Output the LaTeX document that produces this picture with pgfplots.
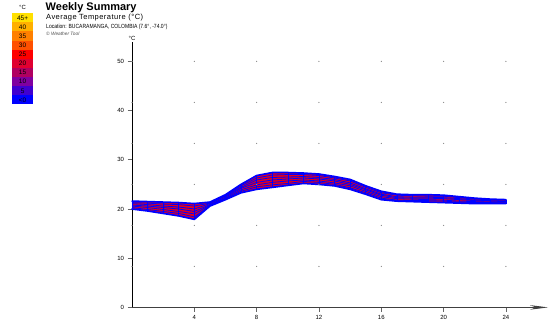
\documentclass[border=0pt]{standalone}
\usepackage{fontspec}
\setmainfont{Liberation Sans}
\usepackage{graphicx}
\usepackage{pgfplots}
\pgfplotsset{compat=1.18}
\usepackage{pgfplotstable}
\usepgfplotslibrary{fillbetween}
\usetikzlibrary{arrows.meta}

\definecolor{lgA}{RGB}{255,224,0}
\definecolor{lgB}{RGB}{255,176,0}
\definecolor{lgC}{RGB}{255,128,0}
\definecolor{lgD}{RGB}{255,80,0}
\definecolor{lgE}{RGB}{255,0,0}
\definecolor{lgF}{RGB}{224,0,48}
\definecolor{lgG}{RGB}{176,0,96}
\definecolor{lgH}{RGB}{128,0,160}
\definecolor{lgI}{RGB}{64,0,208}
\definecolor{lgJ}{RGB}{0,0,255}
\definecolor{bandred}{RGB}{232,0,24}
\definecolor{bandblue}{RGB}{0,0,255}

\pgfplotstableread{
h  d1   d2   d3   d4   d5   d6   d7
0  20.0 20.3 20.6 20.8 21.1 21.3 21.6
1  19.6 19.9 20.3 20.6 20.9 21.2 21.5
2  19.1 19.5 19.9 20.3 20.6 21.0 21.4
3  18.6 19.1 19.5 20.0 20.4 20.9 21.3
4  17.9 18.4 19.0 19.5 20.0 20.6 21.1
5  20.6 20.7 20.8 20.9 21.1 21.2 21.4
6  21.9 22.1 22.2 22.4 22.6 22.7 22.9
7  23.3 23.6 23.9 24.2 24.4 24.7 25.0
8  24.0 24.5 24.9 25.4 25.9 26.3 26.8
9  24.4 24.9 25.4 25.9 26.4 26.9 27.4
10 24.8 25.2 25.7 26.1 26.5 27.0 27.4
11 25.2 25.6 25.9 26.3 26.6 27.0 27.3
12 25.0 25.4 25.7 26.1 26.4 26.8 27.1
13 24.7 25.0 25.3 25.7 26.0 26.3 26.6
14 24.0 24.3 24.7 25.0 25.3 25.7 26.0
15 23.0 23.3 23.6 23.9 24.1 24.4 24.7
16 21.9 22.2 22.5 22.8 23.0 23.3 23.6
17 21.6 21.8 22.1 22.3 22.5 22.8 23.0
18 21.5 21.7 22.0 22.2 22.4 22.7 22.9
19 21.4 21.7 21.9 22.2 22.4 22.6 22.9
20 21.3 21.6 21.8 22.1 22.3 22.6 22.8
21 21.2 21.4 21.6 21.9 22.1 22.3 22.5
22 21.1 21.3 21.5 21.7 21.8 22.0 22.2
23 21.1 21.3 21.4 21.6 21.7 21.9 22.0
24 21.1 21.2 21.4 21.5 21.6 21.8 21.9
}\temps

\begin{document}
\begin{tikzpicture}
\path (0pt,0pt) rectangle (556pt,321pt);

% colour scale legend
\node[font=\fontsize{6}{6}\selectfont] at (22.6pt,314pt) {°C};
\foreach \c/\l [count=\i from 0] in {lgA/45+,lgB/40,lgC/35,lgD/30,lgE/25,lgF/20,lgG/15,lgH/10,lgI/5,lgJ/<0} {
  \fill[\c] (12pt,{(321-13.3-9.1*\i)*1pt}) rectangle (33.3pt,{(321-13.3-9.1*(\i+1))*1pt});
  \node[font=\fontsize{6.5}{6.5}\selectfont, inner sep=0pt] at (22.6pt,{(321-13.3-9.1*\i-4.7)*1pt}) {\l};
}

% titles
\node[anchor=west, inner sep=0pt, font=\fontsize{11}{11}\selectfont\bfseries] at (45.5pt,313.5pt) {Weekly Summary};
\node[anchor=west, inner sep=0pt, font=\fontsize{7.5}{7.5}\selectfont] at (46pt,303pt) {\addfontfeature{LetterSpace=6}Average Temperature (°C)};
\node[anchor=west, inner sep=0pt, font=\fontsize{6}{6}\selectfont] at (46pt,294pt) {\scalebox{0.84}[1]{Location: BUCARAMANGA, COLOMBIA (7.6°, -74.0°)}};
\node[anchor=west, inner sep=0pt, font=\fontsize{4.8}{4.8}\selectfont\itshape, text=black!70] at (46pt,287pt) {© Weather Tool};

\begin{axis}[
  at={(132pt,13.6pt)}, anchor=south west,
  scale only axis,
  width=416pt, height=265.7pt,
  xmin=0, xmax=26.7, ymin=0, ymax=54,
  axis lines=left,
  x axis line style={-{Stealth[length=18pt,width=4.5pt]}, draw=black!75, line width=0.8pt},
  y axis line style={-, draw=black, line width=1pt},
  xtick={4,8,...,24}, ytick={0,10,...,50},
  tick align=outside, major tick length=4.5pt,
  tick style={draw=black!60, line width=0.8pt},
  /pgf/number format/assume math mode=true,
  ticklabel style={font=\fontsize{6}{6}\selectfont, text=black},
  ylabel={°C},
  ylabel style={rotate=-90, at={(axis description cs:0,1)}, anchor=south, inner sep=1pt, font=\fontsize{6}{6}\selectfont},
  clip=false,
]
% dotted grid
\addplot[only marks, mark=*, mark size=0.35pt, black!45] coordinates {
(0,8.333)(4,8.333)(8,8.333)(12,8.333)(16,8.333)(20,8.333)(24,8.333)
(0,16.667)(4,16.667)(8,16.667)(12,16.667)(16,16.667)(20,16.667)(24,16.667)
(0,25)(4,25)(8,25)(12,25)(16,25)(20,25)(24,25)
(0,33.333)(4,33.333)(8,33.333)(12,33.333)(16,33.333)(20,33.333)(24,33.333)
(0,41.667)(4,41.667)(8,41.667)(12,41.667)(16,41.667)(20,41.667)(24,41.667)
(0,50)(4,50)(8,50)(12,50)(16,50)(20,50)(24,50)
};
\addplot[name path=lo, draw=none, forget plot] table[x=h,y=d1]{\temps};
\addplot[name path=hi, draw=none, forget plot] table[x=h,y=d7]{\temps};
\addplot[bandred] fill between[of=lo and hi];
% hourly mesh segments
\addplot[bandblue, line width=0.6pt, mark=none, unbounded coords=jump] coordinates {
(0,20.0)(0,21.6)(0,nan)(1,19.6)(1,21.5)(1,nan)(2,19.1)(2,21.4)(2,nan)
(3,18.6)(3,21.3)(3,nan)(4,17.9)(4,21.1)(4,nan)(5,20.6)(5,21.4)(5,nan)
(6,21.9)(6,22.9)(6,nan)(7,23.3)(7,25.0)(7,nan)(8,24.0)(8,26.8)(8,nan)
(9,24.4)(9,27.4)(9,nan)(10,24.8)(10,27.4)(10,nan)(11,25.2)(11,27.3)(11,nan)
(12,25.0)(12,27.1)(12,nan)(13,24.7)(13,26.6)(13,nan)(14,24.0)(14,26.0)(14,nan)
(15,23.0)(15,24.7)(15,nan)(16,21.9)(16,23.6)(16,nan)(17,21.6)(17,23.0)(17,nan)
(18,21.5)(18,22.9)(18,nan)(19,21.4)(19,22.9)(19,nan)(20,21.3)(20,22.8)(20,nan)
(21,21.2)(21,22.5)(21,nan)(22,21.1)(22,22.2)(22,nan)(23,21.1)(23,22.0)(23,nan)
(24,21.1)(24,21.9)
};
\pgfplotsinvokeforeach{2,...,6}{
  \addplot[bandblue, line width=0.8pt, line join=round, mark=none] table[x=h,y=d#1]{\temps};
}
\addplot[bandblue, line width=1.7pt, line join=round, line cap=round, mark=none] table[x=h,y=d1]{\temps};
\addplot[bandblue, line width=1.7pt, line join=round, line cap=round, mark=none] table[x=h,y=d7]{\temps};
\end{axis}
\end{tikzpicture}
\end{document}
